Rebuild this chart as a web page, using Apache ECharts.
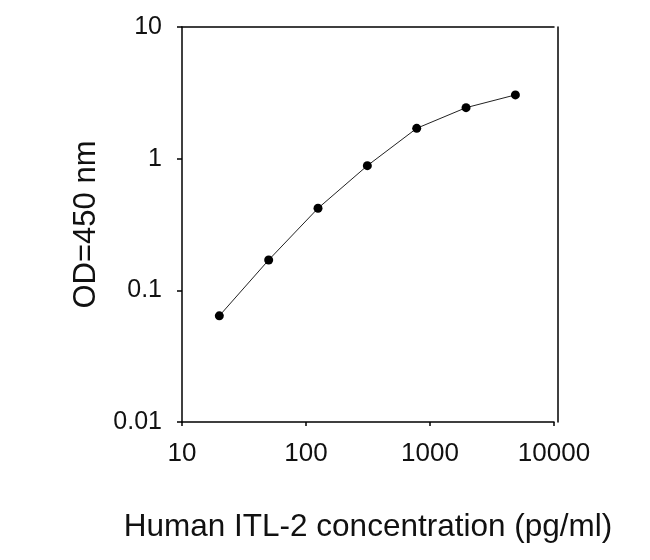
<!DOCTYPE html>
<html>
<head>
<meta charset="utf-8">
<script src="https://cdn.jsdelivr.net/npm/echarts@6/dist/echarts.min.js"></script>
<style>html,body{margin:0;padding:0;background:#fff}#c{width:650px;height:560px}</style>
</head>
<body>
<div id="c"></div>
<script>
const concentration = [20, 50, 125, 312.5, 781.25, 1953.125, 4882.8];
const od450 = [0.064, 0.17, 0.42, 0.885, 1.70, 2.44, 3.05];
const xTitle = 'Human ITL-2 concentration (pg/ml)';
const yTitle = 'OD=450 nm';

const FONT = "'Liberation Sans', Arial, sans-serif";
const fmt = v => String(+(+v).toPrecision(6));
const chart = echarts.init(document.getElementById('c'));
chart.setOption({
  animation: false,
  backgroundColor: '#fff',
  grid: { left: 182, right: 96, top: 27, bottom: 138 },
  xAxis: [{
    type: 'log', logBase: 10, min: 10, max: 10000, position: 'bottom',
    name: xTitle, nameLocation: 'middle', nameGap: 89,
    nameTextStyle: { fontFamily: FONT, fontSize: 31.5, color: '#111' },
    axisLine: { lineStyle: { color: '#000', width: 1.5 } },
    axisTick: { show: true, inside: false, length: 4, lineStyle: { color: '#000', width: 1.5 } },
    minorTick: { show: false },
    splitLine: { show: false },
    axisLabel: { fontFamily: FONT, fontSize: 26, color: '#111', margin: 19, formatter: fmt }
  }, {
    type: 'log', logBase: 10, min: 10, max: 10000, position: 'top',
    axisLine: { lineStyle: { color: '#000', width: 1.5 } },
    axisTick: { show: false }, axisLabel: { show: false }, splitLine: { show: false }
  }],
  yAxis: [{
    type: 'log', logBase: 10, min: 0.01, max: 10, position: 'left',
    name: yTitle, nameLocation: 'middle', nameGap: 73, nameRotate: 90,
    nameTextStyle: { fontFamily: FONT, fontSize: 31, color: '#111' },
    axisLine: { lineStyle: { color: '#000', width: 1.5 } },
    axisTick: { show: true, inside: false, length: 5, lineStyle: { color: '#000', width: 1.5 } },
    minorTick: { show: false },
    splitLine: { show: false },
    axisLabel: { fontFamily: FONT, fontSize: 25, color: '#111', margin: 20, formatter: fmt }
  }, {
    type: 'value', min: 0, max: 1, position: 'right', offset: 4,
    axisLine: { show: true, lineStyle: { color: '#000', width: 1.5 } },
    axisTick: { show: false }, axisLabel: { show: false }, splitLine: { show: false }
  }],
  series: [{
    type: 'line',
    xAxisIndex: 0, yAxisIndex: 0,
    data: concentration.map((x, i) => [x, od450[i]]),
    symbol: 'circle', symbolSize: 9,
    itemStyle: { color: '#000' },
    lineStyle: { color: '#222', width: 1 }
  }]
});
</script>
</body>
</html>
